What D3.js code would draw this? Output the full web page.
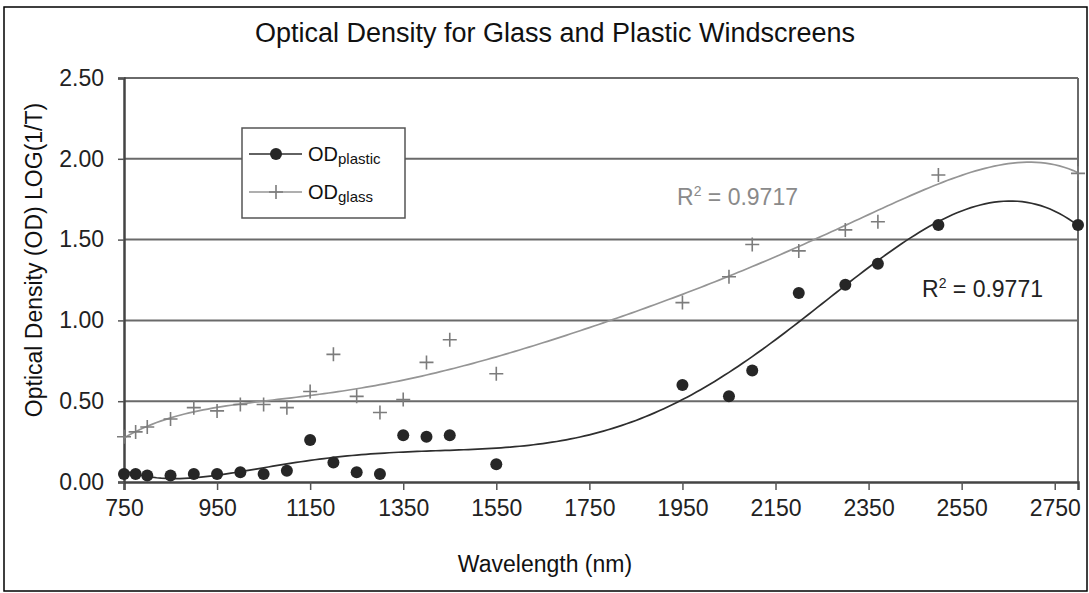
<!DOCTYPE html>
<html>
<head>
<meta charset="utf-8">
<script src="https://cdnjs.cloudflare.com/ajax/libs/d3/7.8.5/d3.min.js"></script>
<style>
  body { margin: 0; background: #fff; }
  text { font-family: "Liberation Sans", Arial, sans-serif; }
</style>
</head>
<body>
<div class="grafico"></div>
<script>
// valores
var wavelengths = [750, 775, 800, 850, 900, 950, 1000, 1050, 1100, 1150, 1200, 1250, 1300,
                   1350, 1400, 1450, 1550, 1950, 2050, 2100, 2200, 2300, 2370, 2500, 2800];
var odPlastic = [0.05, 0.05, 0.04, 0.04, 0.05, 0.05, 0.06, 0.05, 0.07, 0.26, 0.12, 0.06, 0.05,
                 0.29, 0.28, 0.29, 0.11, 0.60, 0.53, 0.69, 1.17, 1.22, 1.35, 1.59, 1.59];
var odGlass = [0.28, 0.31, 0.34, 0.39, 0.46, 0.44, 0.48, 0.48, 0.46, 0.56, 0.79, 0.53, 0.43,
               0.51, 0.74, 0.88, 0.67, 1.11, 1.27, 1.47, 1.43, 1.56, 1.61, 1.90, 1.91];
var xTicks = [750, 950, 1150, 1350, 1550, 1750, 1950, 2150, 2350, 2550, 2750];
var yTicks = [0, 0.5, 1.0, 1.5, 2.0, 2.5];
var r2Labels = ["0.9771", "0.9717"];

var width = 1089;
var height = 593;
var plot = { left: 124, right: 1078, top: 78, bottom: 482 };

var svg = d3.select(".grafico")
            .append("svg")
              .attr("width", width)
              .attr("height", height);

// moldura externa
svg.append("rect")
    .attr("x", 4).attr("y", 7)
    .attr("width", 1083).attr("height", 584)
    .attr("fill", "none")
    .attr("stroke", "#000")
    .attr("stroke-width", 1.5);

var xScale = d3.scaleLinear()
                .domain([750, 2800])
                .range([plot.left, plot.right]);

var yScale = d3.scaleLinear()
                .domain([0, 2.5])
                .range([plot.bottom, plot.top]);

// linhas de grade
svg.append("g")
  .selectAll("line")
  .data(yTicks.slice(1))
  .enter()
    .append("line")
    .attr("x1", plot.left).attr("x2", plot.right)
    .attr("y1", function(d){ return yScale(d); })
    .attr("y2", function(d){ return yScale(d); })
    .attr("stroke", "#6a6a6a")
    .attr("stroke-width", 2);

// borda direita da area do grafico
svg.append("line")
    .attr("x1", plot.right).attr("x2", plot.right)
    .attr("y1", plot.top).attr("y2", plot.bottom)
    .attr("stroke", "#6a6a6a")
    .attr("stroke-width", 2);

var x_axis = d3.axisBottom(xScale)
    .tickValues(xTicks)
    .tickSize(8)
    .tickPadding(10)
    .tickFormat(d3.format("d"));

var y_axis = d3.axisLeft(yScale)
    .tickValues(yTicks)
    .tickSize(6)
    .tickPadding(14)
    .tickFormat(d3.format(".2f"));

var gx = svg.append("g")
    .attr("transform", "translate(0," + plot.bottom + ")")
    .call(x_axis);

var gy = svg.append("g")
    .attr("transform", "translate(" + plot.left + ",0)")
    .call(y_axis);

[gx, gy].forEach(function(g){
  g.select(".domain").attr("stroke", "#444").attr("stroke-width", 2.5);
  g.selectAll(".tick line").attr("stroke", "#555").attr("stroke-width", 1.5);
  g.selectAll(".tick text")
    .attr("fill", "#222")
    .style("font-size", "23px")
    .style("font-family", "'Liberation Sans', Arial, sans-serif");
});

// ajuste polinomial (linha de tendencia de ordem 6), como no Excel
function polyfit(xs, ys, order){
  var n = order + 1;
  var A = [];
  for (var i = 0; i < n; i++) { A.push(new Array(n + 1).fill(0)); }
  xs.forEach(function(x, k){
    var t = (x - 1775) / 1025;
    var p = [];
    for (var i = 0; i < n; i++) p.push(Math.pow(t, i));
    for (var i = 0; i < n; i++) {
      for (var j = 0; j < n; j++) A[i][j] += p[i] * p[j];
      A[i][n] += p[i] * ys[k];
    }
  });
  for (var c = 0; c < n; c++) {
    var piv = c;
    for (var r = c + 1; r < n; r++) if (Math.abs(A[r][c]) > Math.abs(A[piv][c])) piv = r;
    var tmp = A[c]; A[c] = A[piv]; A[piv] = tmp;
    for (var r = 0; r < n; r++) {
      if (r === c) continue;
      var f = A[r][c] / A[c][c];
      for (var j = c; j <= n; j++) A[r][j] -= f * A[c][j];
    }
  }
  var coef = A.map(function(row, i){ return row[n] / row[i]; });
  return function(x){
    var t = (x - 1775) / 1025, s = 0;
    for (var i = n - 1; i >= 0; i--) s = s * t + coef[i];
    return s;
  };
}

var fitPlastic = polyfit(wavelengths, odPlastic, 6);
var fitGlass = polyfit(wavelengths, odGlass, 6);
var curveX = d3.range(750, 2801, 10);

var linha = d3.line()
    .x(function(d){ return xScale(d); });

svg.append("path")
    .datum(curveX)
    .attr("d", linha.y(function(d){ return yScale(fitGlass(d)); }))
    .attr("fill", "none")
    .attr("stroke", "#959595")
    .attr("stroke-width", 1.7);

svg.append("path")
    .datum(curveX)
    .attr("d", linha.y(function(d){ return yScale(fitPlastic(d)); }))
    .attr("fill", "none")
    .attr("stroke", "#2e2e2e")
    .attr("stroke-width", 1.7);

// marcadores "+" do vidro
var cruz = "M-7,0H7M0,-7V7";
svg.append("g")
  .selectAll("path")
  .data(wavelengths)
  .enter()
    .append("path")
    .attr("d", cruz)
    .attr("transform", function(d, i){ return "translate(" + xScale(d) + "," + yScale(odGlass[i]) + ")"; })
    .attr("stroke", "#7c7c7c")
    .attr("stroke-width", 1.6)
    .attr("fill", "none");

// circulos do plastico
svg.append("g")
  .selectAll("circle")
  .data(wavelengths)
  .enter()
    .append("circle")
    .attr("cx", function(d){ return xScale(d); })
    .attr("cy", function(d, i){ return yScale(odPlastic[i]); })
    .attr("r", 6)
    .attr("fill", "#262626");

// titulo e rotulos dos eixos
svg.append("text")
    .attr("x", 555).attr("y", 42)
    .attr("text-anchor", "middle")
    .style("font-size", "27px")
    .attr("fill", "#111")
    .text("Optical Density for Glass and Plastic Windscreens");

svg.append("text")
    .attr("x", 545).attr("y", 572)
    .attr("text-anchor", "middle")
    .style("font-size", "23px")
    .attr("fill", "#111")
    .text("Wavelength (nm)");

svg.append("text")
    .attr("transform", "translate(42,260) rotate(-90)")
    .attr("text-anchor", "middle")
    .style("font-size", "23px")
    .attr("fill", "#111")
    .text("Optical Density (OD) LOG(1/T)");

// R^2
function r2(x, y, valor, cor){
  var t = svg.append("text")
      .attr("x", x).attr("y", y)
      .style("font-size", "23px")
      .attr("fill", cor);
  t.append("tspan").text("R");
  t.append("tspan").attr("dy", -9).style("font-size", "14px").text("2");
  t.append("tspan").attr("dy", 9).text(" = " + valor);
}
r2(922, 297, r2Labels[0], "#222");
r2(677, 205, r2Labels[1], "#8a8a8a");

// legenda
var leg = svg.append("g");
leg.append("rect")
    .attr("x", 242).attr("y", 128)
    .attr("width", 163).attr("height", 90)
    .attr("fill", "#fff")
    .attr("stroke", "#555")
    .attr("stroke-width", 1.5);

var itens = [
  { nome: "plastic", cor: "#2e2e2e", y: 154 },
  { nome: "glass", cor: "#959595", y: 192 }
];
itens.forEach(function(d, i){
  leg.append("line")
      .attr("x1", 249).attr("x2", 302)
      .attr("y1", d.y).attr("y2", d.y)
      .attr("stroke", d.cor).attr("stroke-width", 1.7);
  if (i === 0) {
    leg.append("circle").attr("cx", 276).attr("cy", d.y).attr("r", 6).attr("fill", "#262626");
  } else {
    leg.append("path").attr("d", cruz)
        .attr("transform", "translate(276," + d.y + ")")
        .attr("stroke", "#7c7c7c").attr("stroke-width", 1.6);
  }
  var t = leg.append("text")
      .attr("x", 308).attr("y", d.y + 7)
      .style("font-size", "20px")
      .attr("fill", "#111");
  t.append("tspan").text("OD");
  t.append("tspan").attr("dy", 3).style("font-size", "15px").text(d.nome);
});
</script>
</body>
</html>
